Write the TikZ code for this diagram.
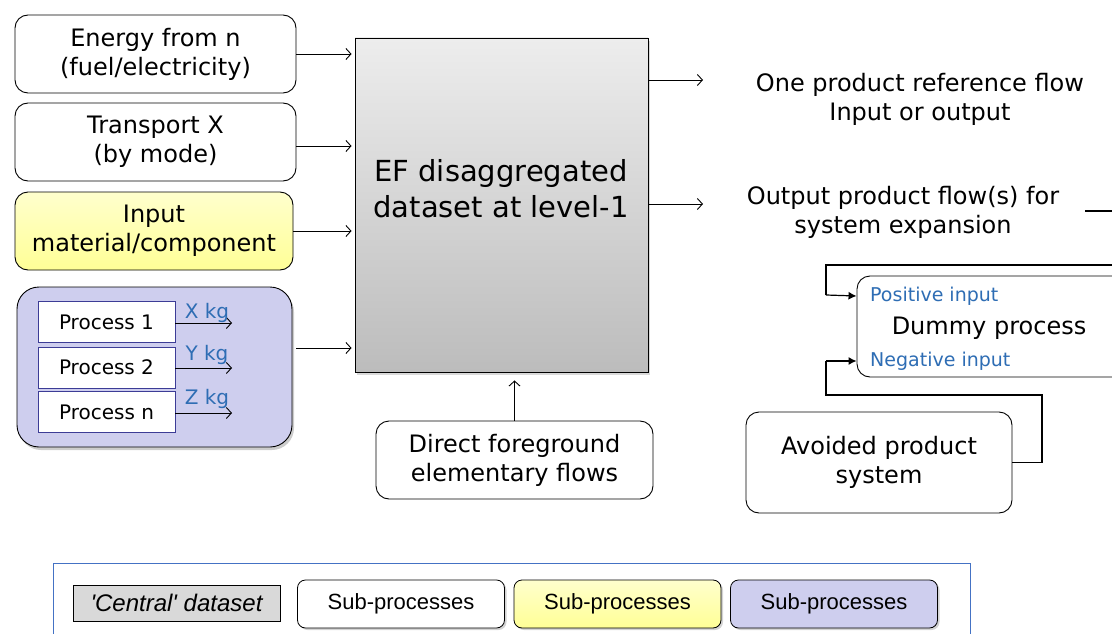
\documentclass[tikz,border=0pt]{standalone}
\usepackage{fontspec}
\setmainfont{DejaVu Sans}
\newfontfamily\legfont{Liberation Sans}
\usetikzlibrary{arrows.meta,shadows}
\definecolor{procblue}{RGB}{46,109,180}
\definecolor{lav}{RGB}{206,206,238}
\definecolor{yeltop}{RGB}{255,255,205}
\definecolor{yelbot}{RGB}{255,255,150}
\definecolor{gtop}{RGB}{237,237,237}
\definecolor{gbot}{RGB}{188,188,188}
\definecolor{legblue}{RGB}{68,114,196}
\definecolor{procborder}{RGB}{60,60,150}
\tikzset{
  mainfont/.style={font=\fontsize{24}{29}\selectfont},
  sub/.style={draw=black, line width=0.9pt, rounded corners=13pt, fill=white, align=center, mainfont, inner sep=0pt},
  yelsub/.style={sub, top color=yeltop, bottom color=yelbot},
  proc/.style={draw=procborder, line width=0.9pt, fill=white, minimum width=137pt, minimum height=41pt, inner sep=0pt, font=\fontsize{20}{22}\selectfont},
  kg/.style={text=procblue, font=\fontsize{20}{22}\selectfont, inner sep=0pt},
  arr/.style={draw=black, line width=0.9pt, -{Straight Barb[length=5pt,width=11pt]}},
  farr/.style={draw=black, line width=1.2pt, -{Latex[length=8pt,width=8pt]}},
  conn/.style={draw=black, line width=1.2pt},
  plain/.style={align=center, mainfont, inner sep=0pt},
  bluetxt/.style={text=procblue, font=\fontsize{19}{22}\selectfont, inner sep=0pt, anchor=west},
  legbox/.style={draw=black, line width=0.8pt, rounded corners=8pt, minimum width=207pt, minimum height=48pt, inner sep=0pt, font=\legfont\fontsize{22}{24}\selectfont, drop shadow={opacity=0.35, shadow xshift=2pt, shadow yshift=-2pt}},
}
\begin{document}
\begin{tikzpicture}[x=1pt,y=-1pt]
\useasboundingbox (0,0) rectangle (1112,634);
\clip (0,0) rectangle (1112,634);
% left sub-processes
\node[sub, minimum width=281pt, minimum height=78pt] (energy) at (155.5,54) {Energy from n\\(fuel/electricity)};
\node[sub, minimum width=281pt, minimum height=78pt] (transport) at (155.5,142) {Transport X\\(by mode)};
\node[yelsub, minimum width=278pt, minimum height=78pt] (input) at (154,231) {Input\\material/component};
\node[draw=black, line width=0.9pt, rounded corners=22pt, fill=lav, minimum width=275pt, minimum height=160pt, drop shadow={opacity=0.4, shadow xshift=2pt, shadow yshift=-3pt}] (purple) at (154.5,367) {};
\node[proc] (p1) at (106.5,322) {Process 1};
\node[proc] (p2) at (106.5,367.5) {Process 2};
\node[proc] (pn) at (106.5,412) {Process n};
\coordinate (x1) at (232,323);
\coordinate (x2) at (232,368);
\coordinate (x3) at (232,413);
\draw[arr] (p1.east |- x1) -- (x1);
\draw[arr] (p2.east |- x2) -- (x2);
\draw[arr] (pn.east |- x3) -- (x3);
\node[kg] (xkg) at (207,313) {X kg};
\node[kg] (ykg) at (207,355) {Y kg};
\node[kg] (zkg) at (207,399) {Z kg};
% central dataset
\node[draw=black, line width=0.9pt, top color=gtop, bottom color=gbot, minimum width=293pt, minimum height=334pt, inner sep=0pt, drop shadow={opacity=0.3, shadow xshift=2pt, shadow yshift=-3pt}] (ef) at (501.5,205) {};
\node[align=center, inner sep=0pt, font=\fontsize{29}{36}\selectfont] (eftext) at (501,189) {EF disaggregated\\dataset at level-1};
% inputs
\draw[arr, shorten >=3pt] (energy.east) -- (energy.east -| ef.west);
\draw[arr, shorten >=3pt] ([yshift=-4pt]transport.east) -- ([yshift=-4pt]transport.east -| ef.west);
\draw[arr, shorten >=3pt] (input.east) -- (input.east -| ef.west);
\coordinate (pin) at (296,348);
\draw[arr, shorten >=3pt] (pin) -- (pin -| ef.west);
% outputs
\node[plain] (oneflow) at (920,99) {One product reference flow\\Input or output};
\node[plain] (outflow) at (903,212) {Output product flow(s) for\\system expansion};
\coordinate (o1) at (703,80);
\coordinate (o2) at (703,204);
\draw[arr] (ef.east |- o1) -- (o1);
\draw[arr] (ef.east |- o2) -- (o2);
% dummy process
\node[sub, minimum width=268pt, minimum height=101pt] (dummy) at (991,326.5) {};
\node[plain] (dummytext) at (989,328) {Dummy process};
\node[bluetxt] (pos) at (870,296) {Positive input};
\node[bluetxt] (neg) at (870,361) {Negative input};
% avoided product
\node[sub, minimum width=266pt, minimum height=101pt] (avoided) at (879,462.5) {Avoided product\\system};
% direct foreground
\node[sub, minimum width=277pt, minimum height=78pt] (direct) at (514.5,460) {Direct foreground\\elementary flows};
\draw[arr, shorten >=8pt] (direct.north) -- (direct.north |- ef.south);
% connectors to dummy
\coordinate (outr) at (1085,211);
\draw[conn] (outr) -- (1140,211) -- (1140,265) -- (826,265) -- (826,295);
\draw[farr] (826,295) -- (dummy.west |- pos);
\draw[conn] (avoided.east) -- (1042,462.5) -- (1042,395) -- (826,395) -- (826,361);
\draw[farr] (826,361) -- (dummy.west |- neg);
% legend
\node[draw=legblue, line width=1pt, minimum width=917pt, minimum height=90pt, inner sep=0pt] (legend) at (511.5,608) {};
\node[draw=black, line width=0.8pt, fill=black!15, minimum width=207pt, minimum height=36pt, inner sep=0pt, font=\legfont\itshape\fontsize{24}{26}\selectfont] (lcentral) at (176.5,603) {\symbol{39}Central\symbol{39} dataset};
\node[legbox, fill=white] (lwhite) at (401,604) {Sub-processes};
\node[legbox, top color=yeltop, bottom color=yelbot] (lyellow) at (617.5,604) {Sub-processes};
\node[legbox, fill=lav] (lpurple) at (834,604) {Sub-processes};
\end{tikzpicture}
\end{document}
